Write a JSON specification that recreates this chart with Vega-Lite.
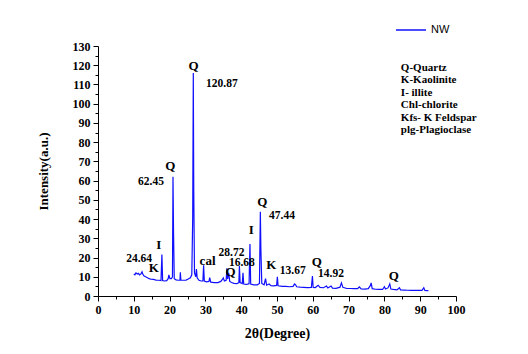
{
  "$schema": "https://vega.github.io/schema/vega-lite/v6.json",
  "width": 358,
  "height": 250,
  "autosize": {"type": "none"},
  "padding": {"left": 98, "top": 46, "right": 72, "bottom": 58},
  "background": "white",
  "config": {"view": {"stroke": null}},
  "datasets": {
    "xrd": [
      {"t": 10.0, "i": 11.5}, {"t": 10.3, "i": 11.0}, {"t": 10.6, "i": 12.0}, {"t": 11.0, "i": 11.4}, {"t": 11.3, "i": 11.8},
      {"t": 11.6, "i": 11.0}, {"t": 12.0, "i": 11.5}, {"t": 12.3, "i": 12.6}, {"t": 12.5, "i": 11.4}, {"t": 12.8, "i": 10.5},
      {"t": 13.3, "i": 10.0}, {"t": 13.8, "i": 9.5}, {"t": 14.3, "i": 9.0}, {"t": 14.8, "i": 8.7}, {"t": 15.5, "i": 8.6},
      {"t": 16.2, "i": 8.3}, {"t": 17.0, "i": 8.2}, {"t": 17.6, "i": 8.0}, {"t": 17.85, "i": 21.6}, {"t": 18.05, "i": 8.0},
      {"t": 18.5, "i": 7.8}, {"t": 19.2, "i": 8.0}, {"t": 19.6, "i": 9.0}, {"t": 19.8, "i": 11.0}, {"t": 20.1, "i": 9.0},
      {"t": 20.5, "i": 9.0}, {"t": 20.8, "i": 10.0}, {"t": 20.95, "i": 62.0}, {"t": 21.1, "i": 33.0}, {"t": 21.3, "i": 9.0},
      {"t": 21.8, "i": 8.4}, {"t": 22.4, "i": 8.2}, {"t": 22.9, "i": 8.3}, {"t": 23.0, "i": 12.3}, {"t": 23.15, "i": 8.3},
      {"t": 24.0, "i": 8.2}, {"t": 24.6, "i": 8.3}, {"t": 25.2, "i": 8.8}, {"t": 25.8, "i": 9.5}, {"t": 26.2, "i": 11.0},
      {"t": 26.45, "i": 40.0}, {"t": 26.62, "i": 116.0}, {"t": 26.75, "i": 54.0}, {"t": 26.95, "i": 12.0}, {"t": 27.3, "i": 10.0},
      {"t": 27.5, "i": 14.0}, {"t": 27.7, "i": 9.5}, {"t": 28.2, "i": 8.2}, {"t": 28.8, "i": 7.8}, {"t": 29.3, "i": 7.8},
      {"t": 29.5, "i": 16.0}, {"t": 29.7, "i": 7.8}, {"t": 30.3, "i": 7.4}, {"t": 31.0, "i": 7.6}, {"t": 31.2, "i": 9.5},
      {"t": 31.5, "i": 7.2}, {"t": 32.5, "i": 7.0}, {"t": 33.5, "i": 7.0}, {"t": 34.3, "i": 7.6}, {"t": 34.8, "i": 8.8},
      {"t": 35.0, "i": 9.4}, {"t": 35.3, "i": 7.8}, {"t": 35.8, "i": 8.2}, {"t": 36.0, "i": 14.4}, {"t": 36.2, "i": 8.8},
      {"t": 36.5, "i": 12.0}, {"t": 36.8, "i": 7.6}, {"t": 37.3, "i": 7.0}, {"t": 38.0, "i": 6.6}, {"t": 38.8, "i": 6.4},
      {"t": 39.35, "i": 7.0}, {"t": 39.5, "i": 15.6}, {"t": 39.7, "i": 7.0}, {"t": 40.3, "i": 6.5}, {"t": 40.5, "i": 12.1},
      {"t": 40.7, "i": 6.2}, {"t": 41.5, "i": 6.0}, {"t": 42.2, "i": 6.4}, {"t": 42.45, "i": 27.0}, {"t": 42.65, "i": 6.2},
      {"t": 43.5, "i": 5.8}, {"t": 44.5, "i": 5.8}, {"t": 45.1, "i": 6.5}, {"t": 45.35, "i": 43.8}, {"t": 45.5, "i": 24.0},
      {"t": 45.75, "i": 6.5}, {"t": 46.4, "i": 5.8}, {"t": 46.8, "i": 9.0}, {"t": 47.1, "i": 5.6}, {"t": 47.8, "i": 6.2},
      {"t": 48.3, "i": 5.4}, {"t": 49.0, "i": 5.3}, {"t": 49.9, "i": 5.5}, {"t": 50.1, "i": 10.0}, {"t": 50.3, "i": 5.3},
      {"t": 51.5, "i": 5.0}, {"t": 52.5, "i": 5.0}, {"t": 53.5, "i": 4.8}, {"t": 54.5, "i": 5.0}, {"t": 54.9, "i": 6.3},
      {"t": 55.2, "i": 5.8}, {"t": 55.5, "i": 4.8}, {"t": 56.5, "i": 4.6}, {"t": 57.5, "i": 4.5}, {"t": 58.5, "i": 4.4},
      {"t": 59.6, "i": 4.5}, {"t": 59.9, "i": 10.4}, {"t": 60.1, "i": 4.5}, {"t": 60.7, "i": 4.4}, {"t": 61.5, "i": 5.6},
      {"t": 62.0, "i": 4.5}, {"t": 63.0, "i": 4.3}, {"t": 63.8, "i": 5.2}, {"t": 64.2, "i": 4.2}, {"t": 65.1, "i": 5.2},
      {"t": 65.5, "i": 4.1}, {"t": 66.5, "i": 4.0}, {"t": 67.6, "i": 4.6}, {"t": 68.0, "i": 6.8}, {"t": 68.4, "i": 4.5},
      {"t": 69.5, "i": 3.9}, {"t": 70.5, "i": 3.9}, {"t": 71.5, "i": 3.8}, {"t": 72.5, "i": 3.8}, {"t": 73.0, "i": 4.7},
      {"t": 73.5, "i": 3.7}, {"t": 74.5, "i": 3.6}, {"t": 75.5, "i": 3.8}, {"t": 76.1, "i": 5.5}, {"t": 76.3, "i": 6.8},
      {"t": 76.6, "i": 3.8}, {"t": 77.5, "i": 3.5}, {"t": 78.5, "i": 3.4}, {"t": 79.5, "i": 3.4}, {"t": 80.0, "i": 4.8},
      {"t": 80.3, "i": 3.6}, {"t": 81.0, "i": 4.2}, {"t": 81.5, "i": 6.3}, {"t": 81.8, "i": 3.6}, {"t": 82.5, "i": 3.4},
      {"t": 83.5, "i": 3.2}, {"t": 84.2, "i": 4.3}, {"t": 84.5, "i": 3.2}, {"t": 85.5, "i": 3.1}, {"t": 86.5, "i": 3.0},
      {"t": 87.5, "i": 2.9}, {"t": 88.5, "i": 2.9}, {"t": 89.5, "i": 2.9}, {"t": 90.5, "i": 2.9}, {"t": 91.0, "i": 4.3},
      {"t": 91.3, "i": 2.9}, {"t": 92.0, "i": 2.8}, {"t": 92.3, "i": 2.8}
    ],
    "labels": [
      {"t": 26.7, "i": 119.6, "label": "Q", "kind": "phase"},
      {"t": 20.2, "i": 67.6, "label": "Q", "kind": "phase"},
      {"t": 45.9, "i": 49.0, "label": "Q", "kind": "phase"},
      {"t": 42.8, "i": 34.3, "label": "I", "kind": "phase"},
      {"t": 17.0, "i": 26.5, "label": "I", "kind": "phase"},
      {"t": 15.6, "i": 14.4, "label": "K", "kind": "phase"},
      {"t": 30.6, "i": 18.4, "label": "cal", "kind": "phase"},
      {"t": 37.0, "i": 12.5, "label": "Q", "kind": "phase"},
      {"t": 48.4, "i": 16.1, "label": "K", "kind": "phase"},
      {"t": 61.1, "i": 17.5, "label": "Q", "kind": "phase"},
      {"t": 82.6, "i": 10.6, "label": "Q", "kind": "phase"},
      {"t": 34.6, "i": 110.2, "label": "120.87", "kind": "value"},
      {"t": 14.8, "i": 59.3, "label": "62.45", "kind": "value"},
      {"t": 51.4, "i": 41.8, "label": "47.44", "kind": "value"},
      {"t": 11.5, "i": 19.1, "label": "24.64", "kind": "value"},
      {"t": 37.3, "i": 22.5, "label": "28.72", "kind": "value"},
      {"t": 40.2, "i": 17.0, "label": "16.68", "kind": "value"},
      {"t": 54.4, "i": 13.2, "label": "13.67", "kind": "value"},
      {"t": 65.1, "i": 11.6, "label": "14.92", "kind": "value"}
    ],
    "key": [
      {"t": 84.6, "i": 121.8, "label": "Q-Quartz\nK-Kaolinite\nI- illite\nChl-chlorite\nKfs- K Feldspar\nplg-Plagioclase"}
    ]
  },
  "encoding": {
    "x": {"field": "t", "type": "quantitative", "scale": {"domain": [0, 100], "nice": false},
      "axis": {"orient": "bottom", "values": [0, 5, 10, 15, 20, 25, 30, 35, 40, 45, 50, 55, 60, 65, 70, 75, 80, 85, 90, 95, 100],
        "labelExpr": "datum.value % 10 === 0 ? datum.label : ''", "labelOverlap": false, "labelFlush": false,
        "tickSize": {"condition": {"test": "datum.value % 10 === 0", "value": 5}, "value": 3},
        "grid": false, "domainColor": "#000", "tickColor": "#000", "labelFont": "Liberation Serif", "labelFontWeight": "bold", "labelFontSize": 12, "labelColor": "#000", "labelPadding": 3,
        "title": "2θ(Degree)", "titleFont": "Liberation Serif", "titleFontSize": 14, "titleFontWeight": "bold", "titleColor": "#000", "titlePadding": 11}},
    "y": {"field": "i", "type": "quantitative", "scale": {"domain": [0, 130], "nice": false},
      "axis": {"orient": "left", "values": [0, 5, 10, 15, 20, 25, 30, 35, 40, 45, 50, 55, 60, 65, 70, 75, 80, 85, 90, 95, 100, 105, 110, 115, 120, 125, 130],
        "labelExpr": "datum.value % 10 === 0 ? datum.label : ''", "labelOverlap": false, "labelFlush": false, "labelSeparation": 0,
        "tickSize": {"condition": {"test": "datum.value % 10 === 0", "value": 5}, "value": 3},
        "grid": false, "domainColor": "#000", "tickColor": "#000", "labelFont": "Liberation Serif", "labelFontWeight": "bold", "labelFontSize": 12, "labelColor": "#000", "labelPadding": 3,
        "title": "Intensity(a.u.)", "titleFont": "Liberation Serif", "titleFontSize": 13, "titleFontWeight": "bold", "titleColor": "#000", "titlePadding": 22}}
  },
  "layer": [
    {
      "data": {"name": "xrd"},
      "transform": [{"calculate": "'NW'", "as": "series"}],
      "mark": {"type": "line", "strokeWidth": 1.2, "interpolate": "linear"},
      "encoding": {
        "color": {"field": "series", "type": "nominal", "scale": {"range": ["#1010ff"]},
          "legend": {"orient": "none", "legendX": 295, "legendY": -34, "title": null, "symbolType": "stroke", "symbolSize": 900, "symbolStrokeWidth": 1.5, "labelFont": "Liberation Sans", "labelFontSize": 11, "labelColor": "#000", "padding": 2}}
      }
    },
    {
      "data": {"name": "labels"},
      "transform": [{"filter": "datum.kind === 'phase'"}],
      "mark": {"type": "text", "font": "Liberation Serif", "fontWeight": "bold", "fontSize": 13, "color": "#000", "align": "center", "baseline": "middle"},
      "encoding": {"text": {"field": "label"}}
    },
    {
      "data": {"name": "labels"},
      "transform": [{"filter": "datum.kind === 'value'"}],
      "mark": {"type": "text", "font": "Liberation Serif", "fontWeight": "bold", "fontSize": 11.5, "color": "#000", "align": "center", "baseline": "middle"},
      "encoding": {"text": {"field": "label"}}
    },
    {
      "data": {"name": "key"},
      "mark": {"type": "text", "font": "Liberation Serif", "fontWeight": "bold", "fontSize": 11, "color": "#000", "align": "left", "baseline": "top", "lineBreak": "\n", "lineHeight": 12.5, "clip": false},
      "encoding": {"text": {"field": "label"}}
    }
  ]
}
